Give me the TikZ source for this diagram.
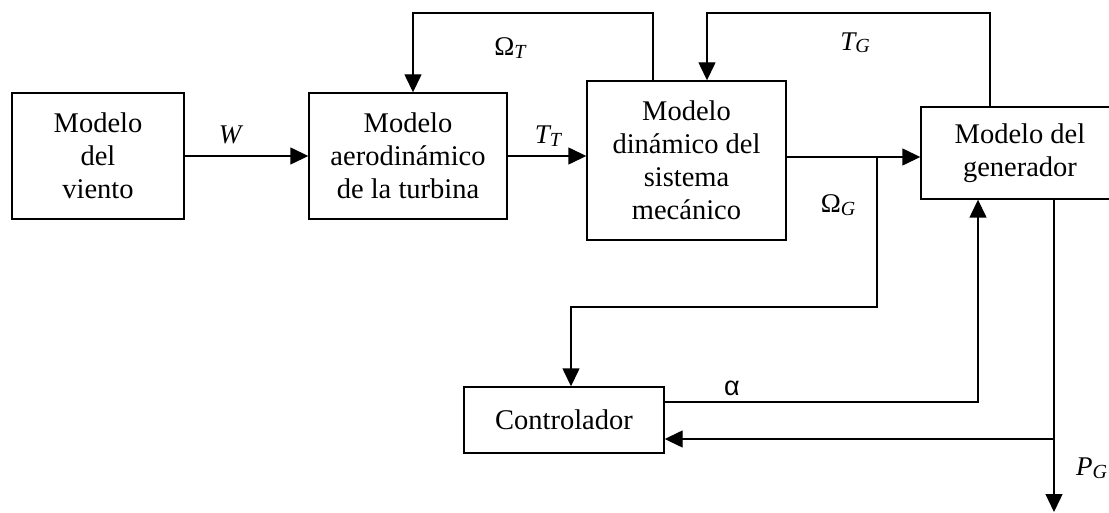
\documentclass[tikz,border=0pt]{standalone}
\usepackage{fontspec}
\setmainfont{Liberation Serif}
\newfontfamily\greeksans{Liberation Sans}
\usetikzlibrary{arrows.meta}
\tikzset{
  blk/.style={draw, line width=1.4pt, align=center, inner sep=0pt,
    font=\fontsize{28.5}{33}\selectfont},
  link/.style={line width=1.4pt},
  arr/.style={link, -{Triangle[length=18pt,width=17pt]}},
  sig/.style={font=\fontsize{27}{30}\selectfont, inner sep=0pt},
}
% signal name with a lowered, smaller italic index
\newcommand{\sgn}[2]{#1\raisebox{-2.5pt}{\fontsize{20}{22}\selectfont\itshape #2}}
\begin{document}
\begin{tikzpicture}[x=1pt, y=-1pt]
  \useasboundingbox (0,0) rectangle (1109,513);
  \clip (0,0) rectangle (1109,513);

  % blocks
  \node[blk, minimum width=172pt, minimum height=126pt] (b1) at (98,156)
    {Modelo\\del\\viento};
  \node[blk, minimum width=198pt, minimum height=126pt] (b2) at (408,156)
    {Modelo\\aerodinámico\\de la turbina};
  \node[blk, minimum width=199pt, minimum height=159pt] (b3) at (686.5,160.5)
    {Modelo\\dinámico del\\sistema\\mecánico};
  \node[blk, minimum width=198pt, minimum height=92pt] (b4) at (1020,153)
    {Modelo del\\generador};
  \node[blk, minimum width=200pt, minimum height=66pt] (ctrl) at (564,420)
    {Controlador};

  % routing points
  \coordinate (t1) at (653,13);
  \coordinate (t2) at (413,13);
  \coordinate (g1) at (990,13);
  \coordinate (g2) at (707,13);
  \coordinate (wG) at (877,157);
  \coordinate (c1) at (571,307);
  \coordinate (a1) at (978,402);
  \coordinate (p1) at (1054,439);
  \coordinate (p2) at (1054,512);

  % forward path
  \draw[arr] (b1.east) -- (b2.west);
  \draw[arr] (b2.east) -- (b3.west |- b2.east);
  \draw[arr] (b3.east |- wG) -- (b4.west |- wG);

  % feedback loops over the top
  \draw[arr] (t1 |- b3.north) -- (t1) -- (t2) -- (t2 |- b2.north);
  \draw[arr] (g1 |- b4.north) -- (g1) -- (g2) -- (g2 |- b3.north);

  % controller connections
  \draw[arr] (wG) -- (wG |- c1) -- (c1) -- (c1 |- ctrl.north);
  \draw[arr] (ctrl.east |- a1) -- (a1) -- (a1 |- b4.south);
  \draw[arr] (p1 |- b4.south) -- (p2);
  \draw[arr] (p1) -- (ctrl.east |- p1);

  % signal labels
  \node[sig] (lW)  at (230,135) {\itshape W};
  \node[sig] (lTT) at (548,136) {\sgn{\itshape T}{T}};
  \node[sig] (lOT) at (510,48)  {\sgn{Ω}{T}};
  \node[sig] (lTG) at (855,43)  {\sgn{\itshape T}{G}};
  \node[sig] (lOG) at (838,205) {\sgn{Ω}{G}};
  \node[sig] (lal) at (732,388) {\greeksans α};
  \node[sig, anchor=west] (lPG) at (1076,468) {\sgn{\itshape P}{G}};
\end{tikzpicture}
\end{document}
